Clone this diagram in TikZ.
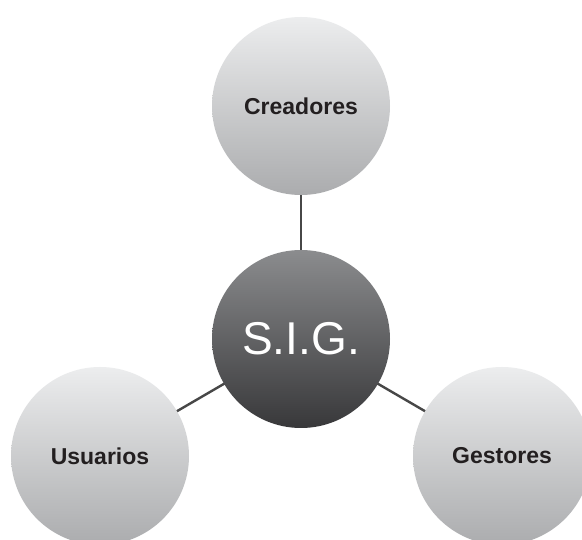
\documentclass[tikz,border=0pt]{standalone}
\usepackage{fontspec}
\setmainfont{Liberation Sans}
\usetikzlibrary{backgrounds}

\definecolor{lighttop}{HTML}{ECEDEE}
\definecolor{lightbot}{HTML}{ABACAE}
\definecolor{darktop}{HTML}{8B8C8E}
\definecolor{darkbot}{HTML}{38383A}
\definecolor{linkgray}{HTML}{474747}
\definecolor{labelink}{HTML}{231F20}

\tikzset{
  rolebubble/.style={circle, minimum size=178pt, inner sep=0pt,
    top color=lighttop, bottom color=lightbot,
    font=\bfseries\fontsize{23}{26}\selectfont, text=labelink},
  corebubble/.style={circle, minimum size=178pt, inner sep=0pt,
    top color=darktop, bottom color=darkbot,
    font=\fontsize{46}{50}\selectfont, text=white},
  link/.style={draw=linkgray, line width=2.4pt}
}

\begin{document}
\begin{tikzpicture}[x=1pt, y=-1pt]
  \path[use as bounding box, clip] (0,0) rectangle (582,540);

  \node[corebubble] (sig) at (301,339) {S.I.G.};
  \node[rolebubble] (creadores) at (301,106) {Creadores};
  \node[rolebubble] (usuarios) at (100,456) {Usuarios};
  \node[rolebubble] (gestores) at (502,456) {Gestores};

  \begin{scope}[on background layer]
    \fill[white] (0,0) rectangle (582,540);
    \draw[link] (sig.center) -- (creadores.center);
    \draw[link] (sig.center) -- (usuarios.center);
    \draw[link] (sig.center) -- (gestores.center);
  \end{scope}
\end{tikzpicture}
\end{document}
